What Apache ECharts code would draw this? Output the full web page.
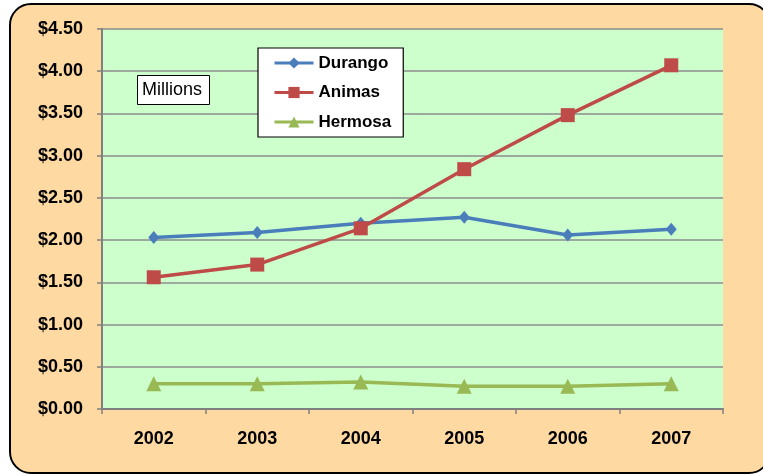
<!DOCTYPE html>
<html>
<head>
<meta charset="utf-8">
<script src="https://cdn.jsdelivr.net/npm/echarts@6/dist/echarts.min.js"></script>
<style>
  html, body { margin: 0; padding: 0; background: #ffffff; }
  #frame {
    position: absolute; left: 9px; top: 3px; width: 762px; height: 471px;
    box-sizing: border-box; border: 2px solid #000; border-radius: 22px;
    background: #FFD9A2;
  }
  #chart { position: absolute; left: 0; top: 0; width: 763px; height: 475px; }
</style>
</head>
<body>
<div id="frame"></div>
<div id="chart"></div>
<script>
const years = ['2002', '2003', '2004', '2005', '2006', '2007']
const durango = [2.03, 2.09, 2.20, 2.27, 2.06, 2.13]
const animas = [1.56, 1.71, 2.14, 2.84, 3.48, 4.07]
const hermosa = [0.30, 0.30, 0.32, 0.27, 0.27, 0.30]

const font = '"Liberation Sans", Arial, sans-serif'

const chart = echarts.init(document.getElementById('chart'))

function line(name, data, color, symbol, size) {
  return {
    name: name,
    type: 'line',
    data: data,
    symbol: symbol,
    symbolSize: size,
    showAllSymbol: true,
    lineStyle: { color: color, width: 3.5 },
    itemStyle: { color: color },
    z: 3
  }
}

chart.setOption({
  animation: false,
  textStyle: { fontFamily: font },
  title: {
    text: 'Millions',
    left: 137, top: 75,
    padding: [5, 8, 5, 5],
    borderColor: '#000', borderWidth: 1,
    backgroundColor: '#fff',
    textStyle: { fontFamily: font, fontSize: 18, fontWeight: 'normal', color: '#000', lineHeight: 20 }
  },
  legend: {
    orient: 'vertical',
    left: 258, top: 48,
    padding: [6, 12, 6, 15],
    itemGap: 11.5,
    itemWidth: 39, itemHeight: 14,
    borderColor: '#000', borderWidth: 1.2,
    backgroundColor: '#fff',
    lineStyle: { width: 3 },
    textStyle: { fontFamily: font, fontSize: 17, fontWeight: 'bold', color: '#000', lineHeight: 18 },
    data: ['Durango', 'Animas', 'Hermosa']
  },
  grid: {
    left: 102, right: 40, top: 29, bottom: 66,
    show: true, backgroundColor: '#CCFFCC', borderWidth: 0
  },
  xAxis: {
    type: 'category',
    data: years,
    boundaryGap: true,
    axisLine: { lineStyle: { color: '#808080', width: 2 } },
    axisTick: { show: true, length: 5, lineStyle: { color: '#808080', width: 1.5 } },
    axisLabel: { fontFamily: font, fontSize: 18, fontWeight: 'bold', color: '#000', margin: 21 }
  },
  yAxis: {
    type: 'value',
    min: 0, max: 4.5, interval: 0.5,
    axisLine: { show: true, lineStyle: { color: '#808080', width: 2 } },
    axisTick: { show: true, length: 5, lineStyle: { color: '#808080', width: 1.5 } },
    splitLine: { lineStyle: { color: '#8c8c8c', width: 1.5 } },
    axisLabel: {
      fontFamily: font, fontSize: 18, fontWeight: 'bold', color: '#000', margin: 19,
      formatter: v => '$' + v.toFixed(2)
    }
  },
  series: [
    line('Durango', durango, '#4A7EBB', 'diamond', [11, 13]),
    line('Animas', animas, '#BE4B48', 'rect', 14),
    line('Hermosa', hermosa, '#98B954', 'triangle', 15)
  ]
})
</script>
</body>
</html>
